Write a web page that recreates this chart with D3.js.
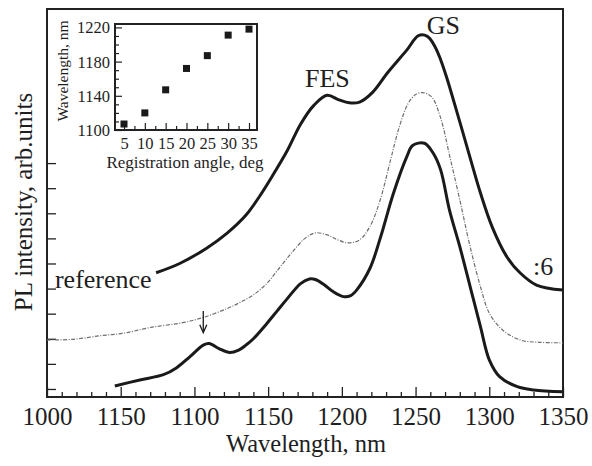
<!DOCTYPE html>
<html>
<head>
<meta charset="utf-8">
<script src="https://cdn.jsdelivr.net/npm/d3@7"></script>
<style>
body{margin:0;background:#fff;}
text{font-family:"Liberation Serif","Times New Roman",serif;fill:#1e1e1e;}
</style>
</head>
<body>
<div id="chart"></div>
<script>
// main spectra (wavelength nm, PL intensity arb. units)
var wlUpper = [1074,1090,1108,1122,1135,1144,1153,1163,1172,1181,1190,1198,1205,1212,1221,1231,1244,1252,1258,1263,1267,1271,1280,1289,1294,1302,1312,1321,1332,1350];
var plUpper = [4.63,5.0,5.6,6.2,6.93,7.66,8.5,9.5,10.55,11.3,11.7,11.52,11.4,11.43,11.83,12.6,13.5,14.08,14.05,13.66,13.12,12.43,10.64,8.80,7.81,6.45,5.26,4.62,4.14,3.94];
var wlRef = [1000,1018,1036,1052,1070,1092,1106,1122,1131,1140,1149,1158,1167,1175,1182,1190,1197,1204,1212,1219,1226,1233,1239,1245,1250,1255,1261,1267,1273,1280,1287,1294,1300,1309,1321,1334,1350];
var plRef = [1.95,1.98,2.12,2.22,2.45,2.64,2.85,3.2,3.45,3.75,4.2,4.85,5.5,6.0,6.22,6.14,5.95,5.82,5.94,6.47,7.53,9.12,10.45,11.38,11.73,11.81,11.63,10.80,9.32,7.53,5.67,4.08,3.02,2.35,1.95,1.86,1.84];
var wlLower = [1046,1063,1079,1088,1097,1106,1110,1117,1124,1130,1135,1140,1149,1156,1163,1172,1178,1182,1188,1194,1201,1206,1210,1219,1226,1235,1244,1248,1256,1262,1267,1273,1280,1287,1294,1300,1307,1319,1330,1350];
var plLower = [0.12,0.36,0.57,0.85,1.29,1.75,1.81,1.6,1.45,1.55,1.75,2.0,2.6,3.1,3.6,4.2,4.38,4.36,4.15,3.88,3.68,3.72,3.94,4.8,6.0,7.8,9.25,9.7,9.79,9.39,8.73,7.13,5.67,4.08,2.48,1.16,0.49,0.09,-0.04,-0.11];

// x axis ticks and labels (labels as printed)
var xMajor = [1000,1050,1100,1150,1200,1250,1300,1350];
var xLabels = ["1000","1150","1100","1150","1200","1250","1300","1350"];
var yTicks = [0,1,2,3,4,5,6,7,8,9];

// inset
var angle = [5,10,15,20,25,30,35];
var peakWl = [1107,1120,1147,1172,1187,1211,1218];
var inXTicks = [5,10,15,20,25,30,35];
var inYTicks = [1100,1140,1180,1220];

var svgWidth = 592, svgHeight = 466;
var svg = d3.select("#chart").append("svg")
    .attr("width",svgWidth)
    .attr("height",svgHeight);

var margin = {top:9,left:47,right:29,bottom:69};
var x = d3.scaleLinear().domain([1000,1350]).range([margin.left, svgWidth - margin.right]);
var y = d3.scaleLinear().domain([-0.32,15.14]).range([svgHeight - margin.bottom, margin.top]);

// x axis (inward ticks)
var minorX = d3.range(1000,1351,10).filter(function(d){return d % 50 != 0;});
svg.append("g")
    .attr("transform","translate(0,"+(svgHeight - margin.bottom)+")")
    .call(d3.axisBottom(x).tickValues(minorX).tickSize(-5).tickFormat(""))
    .call(function(g){g.select(".domain").remove();})
    .selectAll("line").attr("stroke","#222").attr("stroke-width",1.3);

var xa = svg.append("g")
    .attr("transform","translate(0,"+(svgHeight - margin.bottom)+")")
    .call(d3.axisBottom(x).tickValues(xMajor).tickSize(-10)
        .tickFormat(function(d,i){return xLabels[i];}));
xa.select(".domain").remove();
xa.selectAll("line").attr("stroke","#222").attr("stroke-width",1.3);
xa.selectAll("text")
    .attr("y",28).attr("dy",null)
    .attr("font-size",25)
    .attr("fill","#1e1e1e");

// y axis
var ya = svg.append("g")
    .attr("transform","translate("+margin.left+",0)")
    .call(d3.axisLeft(y).tickValues(yTicks).tickSize(-9).tickFormat(""));
ya.select(".domain").remove();
ya.selectAll("line").attr("stroke","#222").attr("stroke-width",1.3);

// frame
svg.append("rect")
    .attr("x",margin.left).attr("y",margin.top)
    .attr("width",svgWidth - margin.left - margin.right)
    .attr("height",svgHeight - margin.top - margin.bottom)
    .attr("fill","none").attr("stroke","#222").attr("stroke-width",2);

// axis titles
svg.append("text")
    .attr("x",(margin.left + svgWidth - margin.right)/2 + 1)
    .attr("y",452)
    .attr("text-anchor","middle")
    .attr("font-size",24.5)
    .text("Wavelength, nm");

svg.append("text")
    .attr("transform","translate(32,202) rotate(-90)")
    .attr("text-anchor","middle")
    .attr("font-size",25)
    .text("PL intensity, arb.units");

// curves
function pts(w,v){ return w.map(function(d,i){return [d,v[i]];}); }
var line = d3.line()
    .x(function(d){return x(d[0]);})
    .y(function(d){return y(d[1]);})
    .curve(d3.curveCatmullRom.alpha(0.5));

svg.append("path").datum(pts(wlRef,plRef))
    .attr("d",line).attr("fill","none")
    .attr("stroke","#6e6e6e").attr("stroke-width",1.2)
    .attr("stroke-dasharray","4,1.5,1,1.5");

svg.append("path").datum(pts(wlUpper,plUpper))
    .attr("d",line).attr("fill","none")
    .attr("stroke","#1a1a1a").attr("stroke-width",3)
    .attr("stroke-linejoin","round");

svg.append("path").datum(pts(wlLower,plLower))
    .attr("d",line).attr("fill","none")
    .attr("stroke","#1a1a1a").attr("stroke-width",3)
    .attr("stroke-linejoin","round");

// annotations
svg.append("text").attr("x",x(1175)).attr("y",y(12.04)).attr("font-size",26).text("FES");
svg.append("text").attr("x",x(1257.5)).attr("y",y(14.13)).attr("font-size",26).text("GS");
svg.append("text").attr("x",x(1329.6)).attr("y",y(4.54)).attr("font-size",26).text(":6");
svg.append("text").attr("x",x(1005.4)).attr("y",y(4.02)).attr("font-size",26).text("reference");

// arrow at 1106 nm
var ax = x(1106), ay1 = y(3.11), ay2 = y(2.24);
svg.append("line").attr("x1",ax).attr("x2",ax).attr("y1",ay1).attr("y2",ay2 - 1)
    .attr("stroke","#1a1a1a").attr("stroke-width",1.3);
svg.append("path")
    .attr("d","M"+(ax-3.5)+","+(ay2-8)+" L"+ax+","+ay2+" L"+(ax+3.5)+","+(ay2-8))
    .attr("fill","none").attr("stroke","#1a1a1a").attr("stroke-width",1.3);

// ---- inset ----
var ix = d3.scaleLinear().domain([2.84,36.92]).range([115,257]);
var iy = d3.scaleLinear().domain([1100,1224]).range([130,24]);

var ig = svg.append("g");
ig.append("rect").attr("x",115).attr("y",24).attr("width",142).attr("height",106)
    .attr("fill","#fff").attr("stroke","none");

var ixMinor = d3.range(7.5,36,5);
ig.append("g").attr("transform","translate(0,130)")
    .call(d3.axisBottom(ix).tickValues(ixMinor).tickSize(-4).tickFormat(""))
    .call(function(g){g.select(".domain").remove();})
    .selectAll("line").attr("stroke","#222").attr("stroke-width",1.2);
var ixa = ig.append("g").attr("transform","translate(0,130)")
    .call(d3.axisBottom(ix).tickValues(inXTicks).tickSize(-7));
ixa.select(".domain").remove();
ixa.selectAll("line").attr("stroke","#222").attr("stroke-width",1.2);
ixa.selectAll("text").attr("y",19).attr("dy",null).attr("font-size",16.5).attr("fill","#1e1e1e");

var iyMinor = d3.range(1110,1221,10).filter(function(d){return (d-1100) % 40 != 0;});
ig.append("g").attr("transform","translate(115,0)")
    .call(d3.axisLeft(iy).tickValues(iyMinor).tickSize(-4).tickFormat(""))
    .call(function(g){g.select(".domain").remove();})
    .selectAll("line").attr("stroke","#222").attr("stroke-width",1.2);
var iya = ig.append("g").attr("transform","translate(115,0)")
    .call(d3.axisLeft(iy).tickValues(inYTicks).tickSize(-7).tickFormat(d3.format("d")));
iya.select(".domain").remove();
iya.selectAll("line").attr("stroke","#222").attr("stroke-width",1.2);
iya.selectAll("text").attr("x",-5).attr("dy","0.33em").attr("font-size",16.5).attr("fill","#1e1e1e");

ig.append("rect").attr("x",115).attr("y",24).attr("width",142).attr("height",106)
    .attr("fill","none").attr("stroke","#222").attr("stroke-width",2);

ig.selectAll("rect.pt").data(angle).enter().append("rect")
    .attr("class","pt")
    .attr("x",function(d){return ix(d) - 3.5;})
    .attr("y",function(d,i){return iy(peakWl[i]) - 3.5;})
    .attr("width",7).attr("height",7)
    .attr("fill","#1a1a1a");

ig.append("text").attr("x",185).attr("y",168)
    .attr("text-anchor","middle").attr("font-size",17)
    .text("Registration angle, deg");
ig.append("text").attr("transform","translate(68,71) rotate(-90)")
    .attr("text-anchor","middle").attr("font-size",15.5)
    .text("Wavelength, nm");
</script>
</body>
</html>
